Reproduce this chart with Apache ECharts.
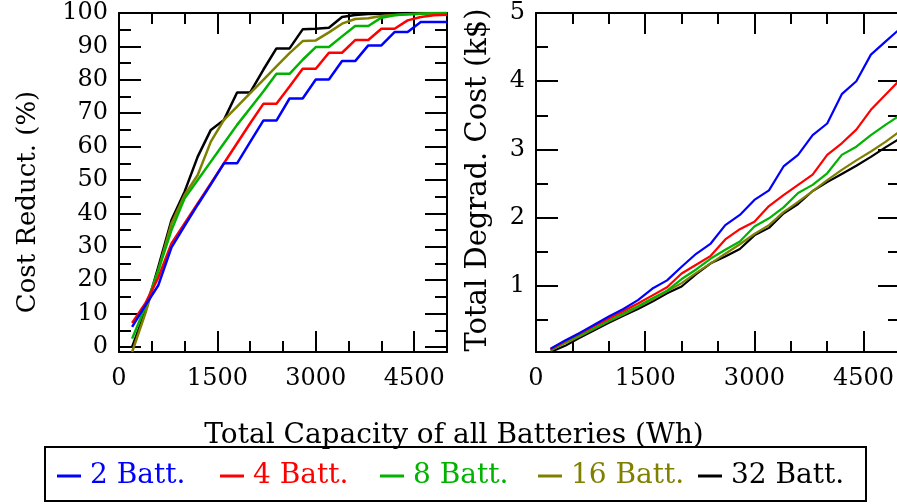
<!DOCTYPE html>
<html>
<head>
<meta charset="utf-8">
<script src="https://cdn.jsdelivr.net/npm/echarts@6/dist/echarts.min.js"></script>
<style>
html,body{margin:0;padding:0;background:#fff;}
#chart{width:897px;height:504px;}
</style>
</head>
<body>
<div id="chart"></div>
<script>
// ---- data ----
const capacity = [200, 400, 600, 800, 1000, 1200, 1400, 1600, 1800, 2000, 2200, 2400, 2600, 2800, 3000, 3200, 3400, 3600, 3800, 4000, 4200, 4400, 4600, 4800, 5000];
const seriesNames = ['2 Batt.', '4 Batt.', '8 Batt.', '16 Batt.', '32 Batt.'];

// Cost reduction (%)
const costRed2  = [6.0, 12.4, 18.5, 29.8, 36.3, 42.6, 48.7, 55.0, 55.0, 61.4, 67.8, 67.8, 74.4, 74.4, 80.1, 80.1, 85.6, 85.6, 90.3, 90.3, 94.3, 94.3, 97.3, 97.3, 97.3];
const costRed4  = [7.2, 13.0, 20.8, 31.0, 37.0, 43.0, 49.0, 55.0, 61.0, 67.0, 72.8, 72.8, 78.0, 83.3, 83.3, 88.1, 88.1, 91.9, 91.9, 95.3, 95.3, 97.8, 98.8, 99.3, 99.5];
const costRed8  = [2.5, 12.0, 23.0, 35.0, 44.5, 50.0, 55.5, 61.0, 66.5, 71.5, 76.5, 81.8, 81.8, 86.0, 89.8, 89.8, 93.0, 96.1, 96.1, 98.6, 99.3, 99.6, 99.8, 99.9, 100];
const costRed16 = [-1.5, 10.0, 23.0, 37.0, 45.5, 51.5, 61.5, 68.0, 72.0, 76.0, 80.0, 84.0, 88.0, 91.6, 91.8, 94.2, 96.8, 98.2, 98.4, 99.1, 99.4, 99.6, 99.8, 99.9, 100];
const costRed32 = [0.0, 10.5, 24.0, 38.0, 46.5, 57.0, 65.0, 68.0, 76.2, 76.2, 83.0, 89.4, 89.4, 95.1, 95.3, 95.6, 98.8, 99.4, 99.7, 99.8, 99.9, 100, 100, 100, 100];

// Total degradation cost (k$)
const degr2  = [0.08, 0.20, 0.31, 0.43, 0.55, 0.66, 0.79, 0.96, 1.08, 1.28, 1.47, 1.62, 1.89, 2.04, 2.26, 2.40, 2.75, 2.92, 3.21, 3.38, 3.81, 4.00, 4.39, 4.58, 4.77];
const degr4  = [0.07, 0.19, 0.30, 0.41, 0.52, 0.63, 0.74, 0.86, 0.98, 1.18, 1.31, 1.44, 1.68, 1.83, 1.94, 2.17, 2.33, 2.48, 2.63, 2.92, 3.09, 3.29, 3.58, 3.80, 4.02];
const degr8  = [0.06, 0.18, 0.28, 0.38, 0.49, 0.60, 0.70, 0.82, 0.93, 1.10, 1.24, 1.40, 1.53, 1.65, 1.87, 1.99, 2.15, 2.36, 2.48, 2.65, 2.92, 3.04, 3.21, 3.36, 3.50];
const degr16 = [0.05, 0.16, 0.26, 0.37, 0.48, 0.58, 0.69, 0.80, 0.92, 1.04, 1.19, 1.33, 1.47, 1.61, 1.76, 1.89, 2.08, 2.23, 2.39, 2.55, 2.70, 2.84, 2.97, 3.11, 3.27];
const degr32 = [0.03, 0.12, 0.24, 0.35, 0.46, 0.56, 0.66, 0.77, 0.89, 0.99, 1.17, 1.33, 1.43, 1.54, 1.74, 1.85, 2.06, 2.20, 2.39, 2.52, 2.64, 2.76, 2.89, 3.03, 3.16];

// ticks / labels
const xMajorTicks = [0, 1500, 3000, 4500];
const xMinorTicks = [500, 1000, 2000, 2500, 3500, 4000];
const leftYMajor = [0, 10, 20, 30, 40, 50, 60, 70, 80, 90, 100];
const leftYMinor = [5, 15, 25, 35, 45, 55, 65, 75, 85, 95];
const rightYMajor = [1, 2, 3, 4, 5];
const rightYMinor = [0.5, 1.5, 2.5, 3.5, 4.5];

const xTitle = 'Total Capacity of all Batteries (Wh)';
const leftYTitle = 'Cost Reduct. (%)';
const rightYTitle = 'Total Degrad. Cost (k$)';

// ---- styling ----
const FONT = 'DejaVu Serif';
const colors = ['#0000ff', '#ff0000', '#00b300', '#808000', '#000000'];
const costSets = [costRed2, costRed4, costRed8, costRed16, costRed32];
const degrSets = [degr2, degr4, degr8, degr16, degr32];

function pairs(xs, ys) { return xs.map((x, i) => [x, ys[i]]); }
const plain = v => String(v);

function xAx(g, pos, ticks, len, labels, line) {
  return {
    type: 'value', gridIndex: g, position: pos, min: 0, max: 5000,
    axisLine: { show: line, onZero: false, lineStyle: { color: '#000', width: 2 } },
    axisTick: { show: true, inside: true, length: len, customValues: ticks, lineStyle: { color: '#000', width: 2 } },
    axisLabel: labels ? { show: true, customValues: labels, formatter: plain, margin: 15, color: '#000', fontFamily: FONT, fontSize: 24 } : { show: false },
    splitLine: { show: false }
  };
}
function yAx(g, pos, min, max, ticks, len, labels, line) {
  return {
    type: 'value', gridIndex: g, position: pos, min: min, max: max,
    axisLine: { show: line, onZero: false, lineStyle: { color: '#000', width: 2 } },
    axisTick: { show: true, inside: true, length: len, customValues: ticks, lineStyle: { color: '#000', width: 2 } },
    axisLabel: labels ? { show: true, customValues: labels, formatter: plain, margin: 11, color: '#000', fontFamily: FONT, fontSize: 24 } : { show: false },
    splitLine: { show: false }
  };
}

const xAxes = [], yAxes = [];
[0, 1].forEach(g => {
  xAxes.push(xAx(g, 'bottom', xMajorTicks, 21, xMajorTicks, true));
  xAxes.push(xAx(g, 'bottom', xMinorTicks, 11, null, false));
  xAxes.push(xAx(g, 'top', xMajorTicks, 21, null, true));
  xAxes.push(xAx(g, 'top', xMinorTicks, 11, null, false));
});
yAxes.push(yAx(0, 'left', -1.5, 100, leftYMajor, 22, leftYMajor, true));
yAxes.push(yAx(0, 'left', -1.5, 100, leftYMinor, 12, null, false));
yAxes.push(yAx(0, 'right', -1.5, 100, leftYMajor, 22, null, true));
yAxes.push(yAx(0, 'right', -1.5, 100, leftYMinor, 12, null, false));
yAxes.push(yAx(1, 'left', 0.03, 5, rightYMajor, 22, rightYMajor, true));
yAxes.push(yAx(1, 'left', 0.03, 5, rightYMinor, 12, null, false));
yAxes.push(yAx(1, 'right', 0.03, 5, rightYMajor, 22, null, true));
yAxes.push(yAx(1, 'right', 0.03, 5, rightYMinor, 12, null, false));

const series = [];
seriesNames.forEach((n, i) => {
  series.push({ name: n, type: 'line', xAxisIndex: 0, yAxisIndex: 0, data: pairs(capacity, costSets[i]),
    symbol: 'none', showSymbol: false, color: colors[i], lineStyle: { color: colors[i], width: 2.5 }, z: 10 - i });
});
seriesNames.forEach((n, i) => {
  series.push({ name: n, type: 'line', xAxisIndex: 4, yAxisIndex: 4, data: pairs(capacity, degrSets[i]),
    symbol: 'none', showSymbol: false, color: colors[i], lineStyle: { color: colors[i], width: 2.2 }, z: 10 - i });
});

const legendX = [57, 220, 380, 538, 698];
const legends = seriesNames.map((n, i) => ({
  data: [{ name: n, textStyle: { color: colors[i] } }],
  left: legendX[i], top: 462, padding: 0, itemGap: 0,
  icon: 'rect', itemWidth: 24, itemHeight: 3, selectedMode: false,
  textStyle: { fontFamily: FONT, fontSize: 28, color: colors[i], padding: [0, 0, 0, 4] }
}));

const chart = echarts.init(document.getElementById('chart'), null, { renderer: 'canvas' });
chart.setOption({
  animation: false,
  backgroundColor: '#fff',
  grid: [
    { left: 119, top: 13, width: 328, height: 339, containLabel: false, outerBoundsMode: 'none' },
    { left: 536, top: 13, width: 364, height: 339, containLabel: false, outerBoundsMode: 'none' }
  ],
  xAxis: xAxes,
  yAxis: yAxes,
  legend: legends,
  series: series,
  graphic: [
    { type: 'rect', shape: { x: 45, y: 447, width: 821, height: 54 }, style: { fill: 'none', stroke: '#000', lineWidth: 2 }, silent: true },
    { type: 'text', x: 454, y: 436, style: { text: xTitle, align: 'center', verticalAlign: 'middle', font: '28px "DejaVu Serif"', fill: '#000' } },
    { type: 'text', x: 28, y: 202, rotation: Math.PI / 2, style: { text: leftYTitle, align: 'center', verticalAlign: 'middle', font: '26px "DejaVu Serif"', fill: '#000' } },
    { type: 'text', x: 478, y: 180, rotation: Math.PI / 2, style: { text: rightYTitle, align: 'center', verticalAlign: 'middle', font: '29px "DejaVu Serif"', fill: '#000' } }
  ]
});
</script>
</body>
</html>
